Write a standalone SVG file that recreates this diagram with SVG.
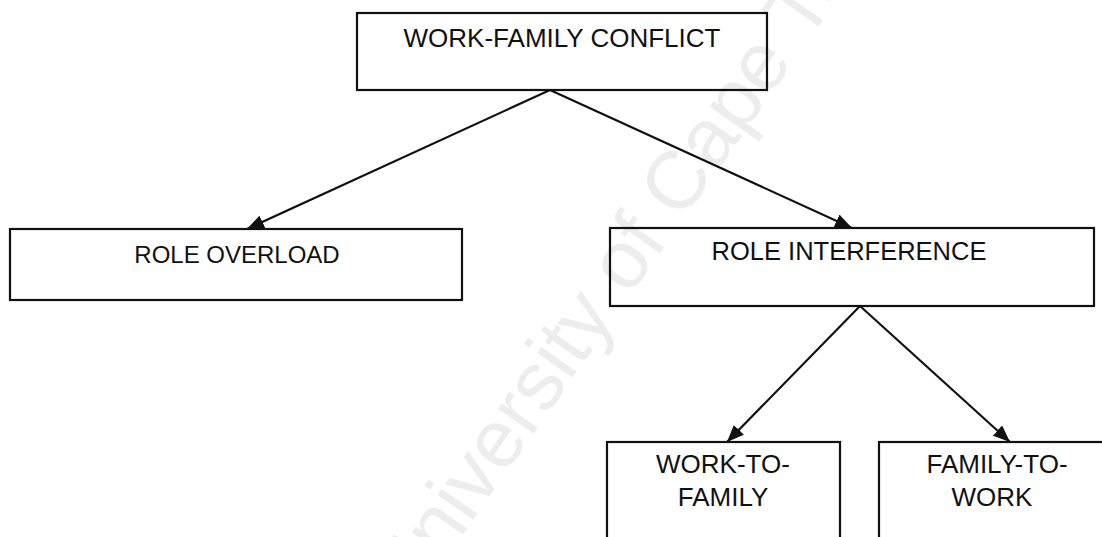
<svg xmlns="http://www.w3.org/2000/svg" width="1102" height="537" viewBox="0 0 1102 537">
  <style>
    .box { fill: none; stroke: #111; stroke-width: 2.2; }
    .lbl { font-family: "Liberation Sans", Arial, sans-serif; fill: #111; text-anchor: middle; }
    .conn { stroke: #111; stroke-width: 2.2; fill: none; marker-end: url(#arr); }
    .wm { font-family: "Liberation Sans", Arial, sans-serif; fill: #ededed; font-size: 82px; }
  </style>
  <defs>
    <marker id="arr" markerUnits="userSpaceOnUse" markerWidth="18" markerHeight="14" refX="17" refY="7" orient="auto">
      <path d="M0,0 L17,7 L0,14 z" fill="#111"/>
    </marker>
  </defs>
  <rect width="1102" height="537" fill="#fff"/>
  <text class="wm" transform="translate(410,610) rotate(-55)">University of Cape Town</text>

  <g id="wfc">
    <rect class="box" x="357" y="13" width="410" height="77"/>
    <text class="lbl" x="562" y="47" font-size="26">WORK-FAMILY CONFLICT</text>
  </g>
  <g id="overload">
    <rect class="box" x="10" y="229" width="452" height="71"/>
    <text class="lbl" x="237" y="263" font-size="24">ROLE OVERLOAD</text>
  </g>
  <g id="interference">
    <rect class="box" x="610" y="228" width="484" height="78"/>
    <text class="lbl" x="849" y="260" font-size="25.5">ROLE INTERFERENCE</text>
  </g>
  <g id="w2f">
    <rect class="box" x="607" y="442" width="233" height="110"/>
    <text class="lbl" x="723" y="473" font-size="26">WORK-TO-</text>
    <text class="lbl" x="723" y="506" font-size="26">FAMILY</text>
  </g>
  <g id="f2w">
    <rect class="box" x="879" y="442" width="240" height="110"/>
    <text class="lbl" x="997" y="473" font-size="26">FAMILY-TO-</text>
    <text class="lbl" x="992" y="506" font-size="26">WORK</text>
  </g>
  <g id="connectors">
    <line class="conn" x1="550" y1="90" x2="247" y2="229"/>
    <line class="conn" x1="550" y1="90" x2="852" y2="228"/>
    <line class="conn" x1="860" y1="306" x2="727" y2="442"/>
    <line class="conn" x1="860" y1="306" x2="1010" y2="442"/>
  </g>
</svg>
